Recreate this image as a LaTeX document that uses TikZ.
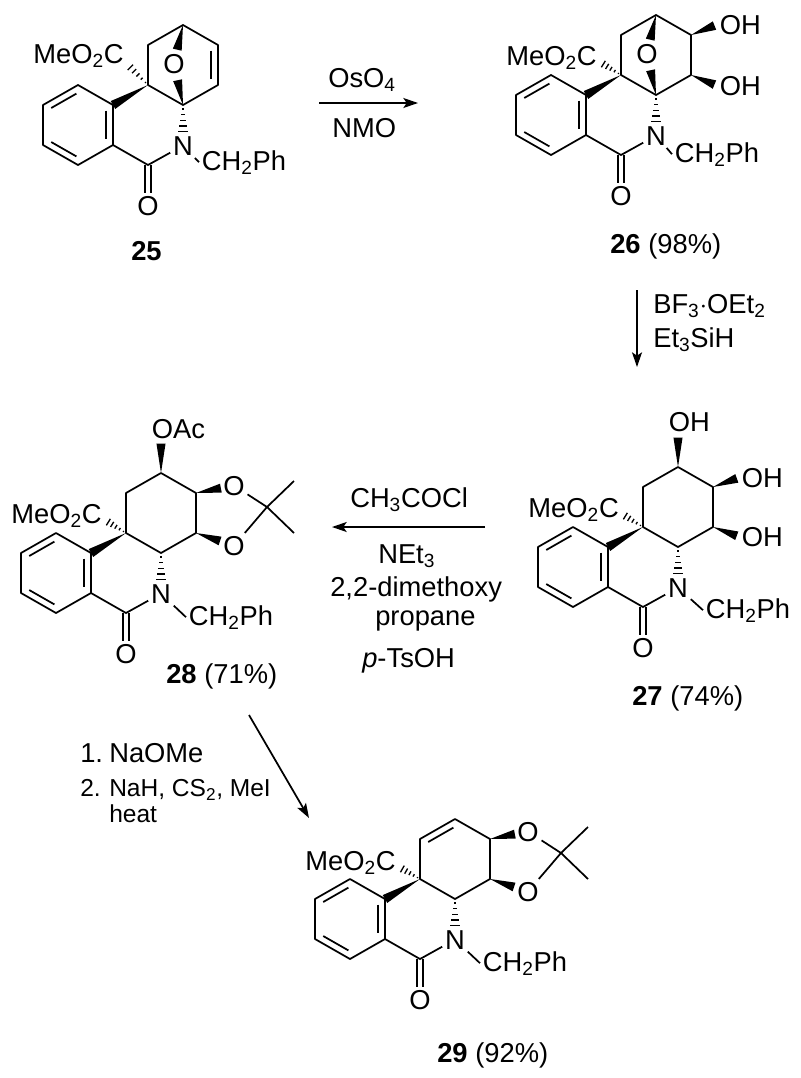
\documentclass[tikz,border=0pt]{standalone}
\usepackage{fontspec}
\setmainfont{Liberation Sans}
\usetikzlibrary{calc, arrows.meta}
\tikzset{
bond/.style={line width=1.3pt}, dblbond/.style={line width=1.3pt, double, double distance=3.5pt}, hashline/.style={line width=1pt},
atom/.style={font=\chemfont, inner sep=2pt, anchor=base}, leftatom/.style={atom, anchor=base west}, txt/.style={font=\chemfont, inner sep=0, anchor=base west},
smalltxt/.style={txt, font=\smallchemfont},
esterlabel/.style={font=\chemfont, inner sep=0, anchor=base east}, rxn/.style={line width=1.3pt, -{Stealth[length=11pt, width=7.5pt, inset=2.5pt]}}}
\newcommand{\chemfont}{\fontsize{20.5}{24}\selectfont}
\newcommand{\smallchemfont}{\fontsize{18.4}{22}\selectfont}
\newcommand{\wedgebond}[3]{\fill ($(#1)!#3!(#2)$) coordinate (tipw) (#1) -- ($(tipw)!3.4pt!90:(#1)$) -- ($(tipw)!3.4pt!-90:(#1)$) -- cycle;}
\newcommand{\hashbond}[4]{\foreach \t [evaluate={\w=3.4*\t;}] in {#4}
  \draw [hashline] ($(#1)!\t*#3!(#2)!\w pt!90:(#2)$) -- ($(#1)!\t*#3!(#2)!\w pt!-90:(#2)$);}
\newcommand{\innerbond}[2]{\draw [bond] ($(#1)!.14!(#2)!5pt!-90:(#2)$) -- ($(#2)!.14!(#1)!5pt!90:(#1)$);}
% skeleton shared by all five: name, x, y, ester baseline, hash end, benzyl x, benzyl y
\newcommand{\ringcore}[7]{
  \begin{scope}[shift={(#2,#3)}]
    \foreach \cname/\cx/\cy in {q/0/0, ar/-35/20, ar2/-35/60, ar3/-70/80, ar4/-105/60, ar5/-105/20, ar6/-70/0, co/0/80, c1/0/-40, c2/35/-60, c3/70/-40, c4/70/0, c5/35/20, up/35/-100}
      \coordinate (#1-\cname) at (\cx,\cy);
    \coordinate (#1-hash) at (-21,#5);
    \node [atom] at (35,70) (#1-n) {N};
    \node [atom] at (0,130) (#1-oxo) {O};
    \node [leftatom] at (#6,#7) (#1-bn) {CH\textsubscript{2}Ph};
    \node [esterlabel] at (-24,#4) (#1-ester) {MeO\textsubscript{2}C};
  \end{scope}
  \draw [dblbond] (#1-co) -- (#1-oxo);
  \draw [bond, line join=round] (#1-ar) -- (#1-ar2) -- (#1-ar3) -- (#1-ar4) -- (#1-ar5) -- (#1-ar6) -- cycle;
  \draw [bond] (#1-ar2) -- (#1-co) -- (#1-n);
  \draw [bond] (#1-n) -- (#1-bn.west);
  \draw [bond, line join=round] (#1-q) -- (#1-c1) -- (#1-c2) -- (#1-c3) -- (#1-c4) -- (#1-c5) -- cycle;
  \innerbond{#1-ar}{#1-ar2}
  \innerbond{#1-ar3}{#1-ar4}
  \innerbond{#1-ar5}{#1-ar6}
  \wedgebond{#1-q}{#1-ar}{1}
  \hashbond{#1-q}{#1-hash}{1}{0.12,0.3,0.48,0.66,0.84,1}
  \hashbond{#1-c5}{#1-n}{0.66}{0.15,0.36,0.57,0.78,1}
}
% dioxolane on c3 and c4
\newcommand{\acetonide}[1]{
  \begin{scope}[shift={(#1-q)}]
    \node [atom] at (108,-38) (#1-o1) {O};
    \node [atom] at (108,22) (#1-o2) {O};
    \coordinate (#1-cme) at (141,-26);
    \coordinate (#1-me1) at (168,-52);
    \coordinate (#1-me2) at (168,0);
  \end{scope}
  \draw [bond] (#1-o1) -- (#1-cme) -- (#1-o2);
  \draw [bond] (#1-me1) -- (#1-cme) -- (#1-me2);
  \wedgebond{#1-c3}{#1-o1}{19pt}
  \wedgebond{#1-c4}{#1-o2}{19pt}
}
% oxygen bridge of the bicycle
\newcommand{\bridge}[1]{
  \node [atom] at ($(#1-q)+(26,-12)$) (#1-obr) {O};
  \wedgebond{#1-c2}{#1-obr}{19pt}
  \wedgebond{#1-c5}{#1-obr}{19pt}
}

\begin{document}
\begin{tikzpicture}[x=0.75pt, y=-0.75pt]
\useasboundingbox (0,0) rectangle (800,1078);

% 25
\ringcore{m25}{148}{85}{-22}{-21}{51}{85}
\innerbond{m25-c3}{m25-c4}
\bridge{m25}
\node [txt] at (131,260) (lab25) {\textbf{25}};

% 26
\ringcore{m26}{621}{75}{-10}{-13}{51}{87}
\bridge{m26}
\node [leftatom] at (717,34) (m26-oh1) {OH};
\node [leftatom] at (717,95) (m26-oh2) {OH};
\wedgebond{m26-c3}{m26-oh1.west}{19pt}
\wedgebond{m26-c4}{m26-oh2.west}{19pt}
\node [txt] at (610,253) (lab26) {\textbf{26} (98\%)};

% 27
\ringcore{m27}{643}{527}{-10}{-13}{60}{91}
\node [leftatom] at (666,431) (m27-oh1) {OH};
\node [leftatom] at (739,487) (m27-oh2) {OH};
\node [leftatom] at (739,546) (m27-oh3) {OH};
\wedgebond{m27-c2}{m27-up}{22pt}
\wedgebond{m27-c3}{m27-oh2.west}{19pt}
\wedgebond{m27-c4}{m27-oh3.west}{19pt}
\node [txt] at (632,705) (lab27) {\textbf{27} (74\%)};

% 28
\ringcore{m28}{126}{533}{-10}{-13}{60}{92}
\acetonide{m28}
\node [leftatom] at (149,438) (m28-oac) {OAc};
\wedgebond{m28-c2}{m28-up}{22pt}
\node [txt] at (166,683) (lab28) {\textbf{28} (71\%)};

% 29
\ringcore{m29}{420}{879}{-9}{-12}{60}{92}
\acetonide{m29}
\innerbond{m29-c1}{m29-c2}
\node [txt] at (437,1062) (lab29) {\textbf{29} (92\%)};

% reactions
\coordinate (r1a) at (319,103);
\coordinate (r1b) at (418,103);
\draw [rxn] (r1a) -- (r1b);
\node [txt] at (328,87) (osmium) {OsO\textsubscript{4}};
\node [txt] at (332,137) (nmo) {NMO};

\coordinate (r2a) at (637,290);
\coordinate (r2b) at (637,367);
\draw [rxn] (r2a) -- (r2b);
\node [txt] at (653,313) (boron) {BF\textsubscript{3}$\cdot$OEt\textsubscript{2}};
\node [txt] at (653,347) (silane) {Et\textsubscript{3}SiH};

\coordinate (r3a) at (485,527);
\coordinate (r3b) at (332,527);
\draw [rxn] (r3a) -- (r3b);
\node [txt] at (350,507) (acyl) {CH\textsubscript{3}COCl};
\node [txt] at (378,563) (amine) {NEt\textsubscript{3}};
\node [txt] at (330,596) (dmp1) {2,2-dimethoxy};
\node [txt] at (375,625) (dmp2) {propane};
\node [txt] at (362,667) (tsoh) {\textit{p}-TsOH};

\coordinate (r4a) at (249,715);
\coordinate (r4b) at (309,818);
\draw [rxn] (r4a) -- (r4b);
\node [txt] at (80,762) (step1) {1.};
\node [txt] at (109,762) (base1) {NaOMe};
\node [smalltxt] at (80,796) (step2) {2.};
\node [smalltxt] at (109,796) (base2) {NaH, CS\textsubscript{2}, MeI};
\node [smalltxt] at (109,822) (heat) {heat};
\end{tikzpicture}
\end{document}
